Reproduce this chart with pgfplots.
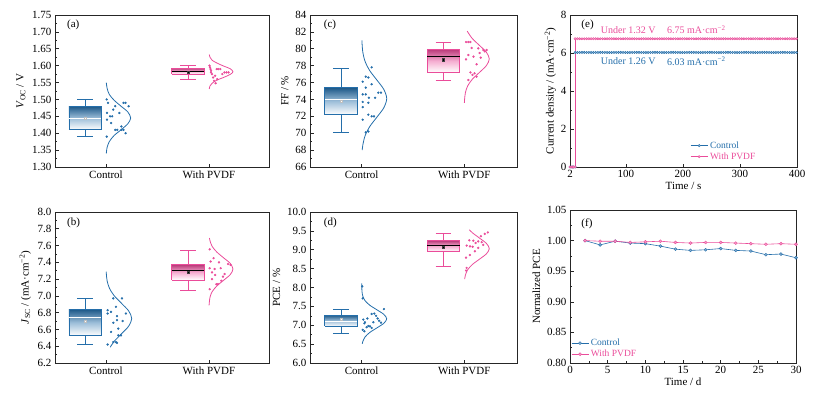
\documentclass[border=0pt]{standalone}
\usepackage{pgfplots}
\pgfplotsset{compat=1.18}
\usepackage{pgfplotstable}
\usepackage{fontspec}
\setmainfont{Liberation Serif}
\definecolor{cblue}{RGB}{36,110,170}
\definecolor{cpink}{RGB}{234,76,154}

% #1 group digit (0 or 1), #2 colour, #3 min, #4 q1, #5 median, #6 q3, #7 max, #8 mean, #9 median colour
\newcommand{\halfbox}[9]{%
\addplot[draw=none, top color=#2!80!black, bottom color=white, middle color=#2!45!white, forget plot] coordinates {(#1.64,#4)(#1.955,#4)(#1.955,#6)(#1.64,#6)(#1.64,#4)};
\addplot[draw=#2, line width=0.8pt, forget plot] coordinates {(#1.64,#4)(#1.955,#4)(#1.955,#6)(#1.64,#6)(#1.64,#4)};
\addplot[draw=#2, line width=0.8pt, forget plot] coordinates {(#1.7975,#6)(#1.7975,#7)};
\addplot[draw=#2, line width=0.8pt, forget plot] coordinates {(#1.7975,#4)(#1.7975,#3)};
\addplot[draw=#2, line width=0.8pt, forget plot] coordinates {(#1.72,#7)(#1.875,#7)};
\addplot[draw=#2, line width=0.8pt, forget plot] coordinates {(#1.72,#3)(#1.875,#3)};
\addplot[draw=#9, line width=0.9pt, forget plot] coordinates {(#1.64,#5)(#1.955,#5)};
\addplot[only marks, mark=square*, mark size=1.1pt, mark options={fill=#9, draw=#9!50!gray}, forget plot] coordinates {(#1.7975,#8)};
}

\pgfplotsset{
 myax/.style={scale only axis, anchor=south west,
  axis line style={line width=0.7pt, black!85},
  every tick/.style={line width=0.6pt, black!85},
  tick align=inside, tick pos=left,
  major tick length=3.5pt, minor tick length=2pt,
  /pgf/number format/assume math mode=true,
  tick label style={font=\fontsize{11}{13}\selectfont},
  label style={font=\fontsize{11}{13}\selectfont},
  },
 boxax/.style={myax, xtick={1,2}, xticklabels={Control,With PVDF}, minor y tick num=1},
 scat/.style={only marks, mark=*, mark size=0.95pt, color=#1, forget plot},
 curv/.style={smooth, color=#1, line width=0.8pt, forget plot},
 fix2/.style={yticklabel style={/pgf/number format/fixed, /pgf/number format/fixed zerofill, /pgf/number format/precision=2}},
 fix1/.style={yticklabel style={/pgf/number format/fixed, /pgf/number format/fixed zerofill, /pgf/number format/precision=1}},
}

\pgfplotstableread[row sep=\\]{
t c p\\
2 0 0\\ 4 0 0\\ 6 0 0\\ 8 0 0\\ 11 0 0\\
11 6.03 6.75\\ 15 6.03 6.75\\ 19 6.03 6.75\\ 23 6.03 6.75\\ 27 6.03 6.75\\ 31 6.03 6.75\\ 35 6.03 6.75\\ 39 6.03 6.75\\
43 6.03 6.75\\ 47 6.03 6.75\\ 51 6.03 6.75\\ 55 6.03 6.75\\ 59 6.03 6.75\\ 63 6.03 6.75\\ 67 6.03 6.75\\ 71 6.03 6.75\\
75 6.03 6.75\\ 79 6.03 6.75\\ 83 6.03 6.75\\ 87 6.03 6.75\\ 91 6.03 6.75\\ 95 6.03 6.75\\ 99 6.03 6.75\\ 103 6.03 6.75\\
107 6.03 6.75\\ 111 6.03 6.75\\ 115 6.03 6.75\\ 119 6.03 6.75\\ 123 6.03 6.75\\ 127 6.03 6.75\\ 131 6.03 6.75\\ 135 6.03 6.75\\
139 6.03 6.75\\ 143 6.03 6.75\\ 147 6.03 6.75\\ 151 6.03 6.75\\ 155 6.03 6.75\\ 159 6.03 6.75\\ 163 6.03 6.75\\ 167 6.03 6.75\\
171 6.03 6.75\\ 175 6.03 6.75\\ 179 6.03 6.75\\ 183 6.03 6.75\\ 187 6.03 6.75\\ 191 6.03 6.75\\ 195 6.03 6.75\\ 199 6.03 6.75\\
203 6.03 6.75\\ 207 6.03 6.75\\ 211 6.03 6.75\\ 215 6.03 6.75\\ 219 6.03 6.75\\ 223 6.03 6.75\\ 227 6.03 6.75\\ 231 6.03 6.75\\
235 6.03 6.75\\ 239 6.03 6.75\\ 243 6.03 6.75\\ 247 6.03 6.75\\ 251 6.03 6.75\\ 255 6.03 6.75\\ 259 6.03 6.75\\ 263 6.03 6.75\\
267 6.03 6.75\\ 271 6.03 6.75\\ 275 6.03 6.75\\ 279 6.03 6.75\\ 283 6.03 6.75\\ 287 6.03 6.75\\ 291 6.03 6.75\\ 295 6.03 6.75\\
299 6.03 6.75\\ 303 6.03 6.75\\ 307 6.03 6.75\\ 311 6.03 6.75\\ 315 6.03 6.75\\ 319 6.03 6.75\\ 323 6.03 6.75\\ 327 6.03 6.75\\
331 6.03 6.75\\ 335 6.03 6.75\\ 339 6.03 6.75\\ 343 6.03 6.75\\ 347 6.03 6.75\\ 351 6.03 6.75\\ 355 6.03 6.75\\ 359 6.03 6.75\\
363 6.03 6.75\\ 367 6.03 6.75\\ 371 6.03 6.75\\ 375 6.03 6.75\\ 379 6.03 6.75\\ 383 6.03 6.75\\ 387 6.03 6.75\\ 391 6.03 6.75\\
395 6.03 6.75\\ 399 6.03 6.75\\
}\tabE

\pgfplotstableread{
t c p
2 1.000 1.000
4 0.993 0.999
6 0.999 0.999
8 0.996 0.997
10 0.995 0.998
12 0.991 0.999
14 0.986 0.997
16 0.984 0.996
18 0.985 0.997
20 0.987 0.997
22 0.984 0.996
24 0.983 0.995
26 0.977 0.994
28 0.978 0.995
30 0.972 0.994
}\tabF

\begin{document}
\begin{tikzpicture}
\path (0,0) rectangle (825pt,-399pt);

% (a)
\begin{axis}[boxax, fix2, at={(55pt,-167pt)}, width=214pt, height=152pt,
  xmin=0.505, xmax=2.583, ymin=1.30, ymax=1.75,
  ytick={1.30,1.35,1.40,1.45,1.50,1.55,1.60,1.65,1.70,1.75},
  ylabel={\textit{V}\textsubscript{OC} / V}]
\halfbox{0}{cblue}{1.39}{1.41}{1.444}{1.48}{1.50}{1.445}{white}
\halfbox{1}{cpink}{1.56}{1.575}{1.582}{1.592}{1.60}{1.581}{black}
\addplot[scat=cblue] coordinates {(1.007,1.50)(1.02,1.49)(1.17,1.49)(1.19,1.49)(1.09,1.48)(1.22,1.48)(1.07,1.47)(1.01,1.46)(1.13,1.46)(1.04,1.45)(1.06,1.45)(1.01,1.44)(1.05,1.43)(1.15,1.42)(1.09,1.41)(1.11,1.41)(1.15,1.41)(1.17,1.41)(1.19,1.40)(1.007,1.39)};
\addplot[scat=cpink] coordinates {(2.005,1.60)(2.01,1.595)(2.015,1.59)(2.02,1.585)(2.03,1.575)(2.04,1.565)(2.05,1.555)(2.065,1.548)(2.075,1.59)(2.09,1.59)(2.11,1.59)(2.15,1.58)(2.17,1.58)(2.19,1.58)(2.13,1.575)(2.02,1.58)(2.06,1.57)(2.08,1.56)};
\addplot[curv=cblue] coordinates {(1.003,1.340)(1.011,1.358)(1.032,1.375)(1.078,1.393)(1.146,1.410)(1.212,1.428)(1.240,1.445)(1.212,1.463)(1.146,1.480)(1.078,1.498)(1.032,1.515)(1.011,1.533)(1.003,1.550)};
\addplot[curv=cpink] coordinates {(2.003,1.531)(2.010,1.540)(2.031,1.548)(2.076,1.557)(2.141,1.565)(2.206,1.574)(2.233,1.582)(2.206,1.591)(2.141,1.599)(2.076,1.608)(2.031,1.616)(2.010,1.625)(2.003,1.633)};
\node[anchor=west, font=\fontsize{11}{13}\selectfont] at (axis description cs:0.04,0.934) {(a)};
\end{axis}

% (b)
\begin{axis}[boxax, fix1, at={(55pt,-363pt)}, width=214pt, height=151pt,
  xmin=0.505, xmax=2.583, ymin=6.2, ymax=8.0,
  ytick={6.2,6.4,6.6,6.8,7.0,7.2,7.4,7.6,7.8,8.0},
  ylabel={\textit{J}\textsubscript{SC} / (mA·cm\textsuperscript{−2})}]
\halfbox{0}{cblue}{6.42}{6.525}{6.745}{6.84}{6.97}{6.70}{white}
\halfbox{1}{cpink}{7.07}{7.19}{7.30}{7.37}{7.54}{7.28}{black}
\addplot[scat=cblue] coordinates {(1.071,6.97)(1.155,6.97)(1.097,6.87)(1.016,6.83)(1.049,6.81)(1.016,6.79)(1.194,6.79)(1.107,6.76)(1.071,6.68)(1.107,6.71)(1.162,6.70)(1.12,6.61)(1.049,6.57)(1.146,6.53)(1.12,6.53)(1.097,6.45)(1.071,6.45)(1.016,6.42)(1.107,6.44)};
\addplot[scat=cpink] coordinates {(2.007,7.555)(2.045,7.45)(2.016,7.41)(2.097,7.40)(2.185,7.38)(2.21,7.37)(2.007,7.33)(2.055,7.32)(2.03,7.28)(2.114,7.33)(2.152,7.26)(2.136,7.23)(2.072,7.14)(2.088,7.14)(2.007,7.08)(2.12,7.18)(2.03,7.20)(2.06,7.25)};
\addplot[curv=cblue] coordinates {(1.041,6.388)(1.081,6.46)(1.152,6.55)(1.221,6.64)(1.25,6.73)(1.221,6.82)(1.152,6.91)(1.081,7.00)(1.034,7.09)(1.011,7.18)(1.003,7.27)(1.002,7.288)};
\addplot[curv=cpink] coordinates {(2.001,6.888)(2.010,6.983)(2.031,7.05)(2.076,7.118)(2.141,7.185)(2.206,7.253)(2.233,7.32)(2.206,7.388)(2.141,7.455)(2.076,7.523)(2.031,7.59)(2.010,7.658)(2.005,7.69)};
\node[anchor=west, font=\fontsize{11}{13}\selectfont] at (axis description cs:0.04,0.925) {(b)};
\end{axis}

% (c)
\begin{axis}[boxax, at={(310pt,-167pt)}, width=207pt, height=152pt,
  xmin=0.496, xmax=2.514, ymin=66, ymax=84,
  ytick={66,68,70,72,74,76,78,80,82,84},
  ylabel={FF / \%}]
\halfbox{0}{cblue}{70.1}{72.2}{74.0}{75.4}{77.7}{73.8}{white}
\halfbox{1}{cpink}{76.2}{77.2}{79.1}{79.9}{80.8}{78.7}{black}
\addplot[scat=cblue] coordinates {(1.097,77.8)(1.065,76.6)(1.04,76.7)(1.01,76.1)(1.097,75.8)(1.04,75.4)(1.01,74.6)(1.04,74.6)(1.07,74.2)(1.13,74.2)(1.162,74.8)(1.188,74.8)(1.01,73.7)(1.065,73.6)(1.01,73.1)(1.065,72.2)(1.097,72.0)(1.12,72.0)(1.01,71.6)(1.04,70.1)(1.065,70.2)};
\addplot[scat=cpink] coordinates {(2.017,80.8)(2.04,80.8)(2.06,80.8)(2.072,80.1)(2.137,80.05)(2.186,79.86)(2.218,79.86)(2.04,79.26)(2.09,79.07)(2.16,78.95)(2.017,78.75)(2.12,78.16)(2.06,77.2)(2.1,77.1)(2.04,76.3)(2.12,76.7)(2.08,76.9)(2.2,79.7)(2.15,79.5)};
\addplot[curv=cblue] coordinates {(1.005,68.0)(1.011,68.6)(1.033,69.7)(1.079,70.8)(1.148,71.9)(1.215,73.0)(1.244,74.1)(1.215,75.2)(1.148,76.3)(1.079,77.4)(1.033,78.5)(1.011,79.6)(1.003,80.7)(1.002,81.0)};
\addplot[curv=cpink] coordinates {(2.001,73.6)(2.003,74.0)(2.011,74.8)(2.033,75.6)(2.079,76.4)(2.148,77.2)(2.215,78.0)(2.244,78.8)(2.215,79.6)(2.148,80.4)(2.079,81.2)(2.033,82.0)(2.029,82.1)};
\node[anchor=west, font=\fontsize{11}{13}\selectfont] at (axis description cs:0.05,0.934) {(c)};
\end{axis}

% (d)
\begin{axis}[boxax, fix1, at={(310pt,-363pt)}, width=207pt, height=151pt,
  xmin=0.496, xmax=2.514, ymin=6.0, ymax=10.0,
  ytick={6.0,6.5,7.0,7.5,8.0,8.5,9.0,9.5,10.0},
  ylabel={PCE / \%}]
\halfbox{0}{cblue}{6.79}{6.97}{7.10}{7.27}{7.42}{7.15}{white}
\halfbox{1}{cpink}{8.55}{8.95}{9.11}{9.24}{9.43}{9.06}{black}
\addplot[scat=cblue] coordinates {(1.005,8.03)(1.01,7.71)(1.217,7.43)(1.097,7.30)(1.123,7.31)(1.016,7.15)(1.055,7.18)(1.155,7.18)(1.026,7.05)(1.032,7.08)(1.065,6.98)(1.081,6.97)(1.113,7.08)(1.188,7.07)(1.01,6.88)(1.026,6.84)(1.097,6.93)(1.048,6.95)(1.14,7.25)(1.17,7.12)};
\addplot[scat=cpink] coordinates {(2.23,9.46)(2.2,9.42)(2.162,9.36)(2.049,9.25)(2.088,9.24)(2.136,9.22)(2.023,9.11)(2.055,9.09)(2.081,9.08)(2.136,9.05)(2.185,9.13)(2.104,8.96)(2.055,8.86)(2.017,8.79)(2.023,8.52)(2.017,8.45)(2.17,9.2)(2.11,9.18)};
\addplot[curv=cblue] coordinates {(1.006,6.51)(1.011,6.57)(1.033,6.69)(1.079,6.81)(1.148,6.93)(1.215,7.05)(1.244,7.17)(1.215,7.29)(1.148,7.41)(1.079,7.53)(1.033,7.65)(1.011,7.77)(1.003,7.89)(1.001,8.01)(1.000,8.11)};
\addplot[curv=cpink] coordinates {(2.004,8.221)(2.011,8.33)(2.033,8.47)(2.079,8.61)(2.148,8.75)(2.215,8.89)(2.244,9.03)(2.215,9.17)(2.148,9.31)(2.079,9.45)(2.049,9.531)};
\node[anchor=west, font=\fontsize{11}{13}\selectfont] at (axis description cs:0.05,0.925) {(d)};
\end{axis}

% (e)
\begin{axis}[myax, at={(570pt,-167pt)}, width=227pt, height=152pt,
  xmin=2, xmax=400, ymin=0, ymax=8,
  xtick={2,100,200,300,400}, ytick={0,2,4,6,8},
  minor y tick num=1, minor x tick num=1,
  xlabel={Time / s}, ylabel={Current density / (mA·cm\textsuperscript{−2})},
  xlabel style={yshift=3pt}, ylabel style={yshift=-2pt},
  legend style={at={(0.525,0.02)}, anchor=south west, draw=none, fill=none,
    font=\fontsize{9.5}{11}\selectfont, row sep=-1pt, inner sep=1pt},
  legend cell align=left]
\addplot[color=cblue, line width=0.6pt, mark=*, mark size=1.2pt, mark options={fill=cblue!50!white, line width=0.4pt}] table[x=t, y=c] {\tabE};
\addlegendentry{\textcolor{cblue}{Control}}
\addplot[color=cpink, line width=0.6pt, mark=*, mark size=1.2pt, mark options={fill=cpink!50!white, line width=0.4pt}] table[x=t, y=p] {\tabE};
\addlegendentry{\textcolor{cpink}{With PVDF}}
\node[anchor=west, text=cpink, font=\fontsize{10}{12}\selectfont] at (axis cs:50,7.22) {Under 1.32 V};
\node[anchor=west, text=cpink, font=\fontsize{10}{12}\selectfont] at (axis cs:166,7.22) {6.75 mA·cm\textsuperscript{−2}};
\node[anchor=west, text=cblue, font=\fontsize{10}{12}\selectfont] at (axis cs:50,5.58) {Under 1.26 V};
\node[anchor=west, text=cblue, font=\fontsize{10}{12}\selectfont] at (axis cs:166,5.58) {6.03 mA·cm\textsuperscript{−2}};
\node[anchor=west, font=\fontsize{11}{13}\selectfont] at (axis description cs:0.035,0.934) {(e)};
\end{axis}

% (f)
\begin{axis}[myax, fix2, at={(570pt,-363pt)}, width=226pt, height=153pt,
  xmin=0, xmax=30, ymin=0.80, ymax=1.05,
  xtick={0,5,10,15,20,25,30}, ytick={0.80,0.85,0.90,0.95,1.00,1.05},
  minor y tick num=1, minor x tick num=1,
  xlabel={Time / d}, ylabel={Normalized PCE},
  xlabel style={yshift=3pt},
  legend style={at={(0.0,0.01)}, anchor=south west, draw=none, fill=none,
    font=\fontsize{9.5}{11}\selectfont, row sep=-1pt, inner sep=1pt},
  legend cell align=left]
\addplot[color=cblue, line width=0.6pt, mark=*, mark size=1.5pt, mark options={fill=cblue!55!white, line width=0.4pt}] table[x=t, y=c] {\tabF};
\addlegendentry{\textcolor{cblue}{Control}}
\addplot[color=cpink, line width=0.6pt, mark=*, mark size=1.5pt, mark options={fill=cpink!55!white, line width=0.4pt}] table[x=t, y=p] {\tabF};
\addlegendentry{\textcolor{cpink}{With PVDF}}
\node[anchor=west, font=\fontsize{11}{13}\selectfont] at (axis description cs:0.035,0.913) {(f)};
\end{axis}
\end{tikzpicture}
\end{document}
